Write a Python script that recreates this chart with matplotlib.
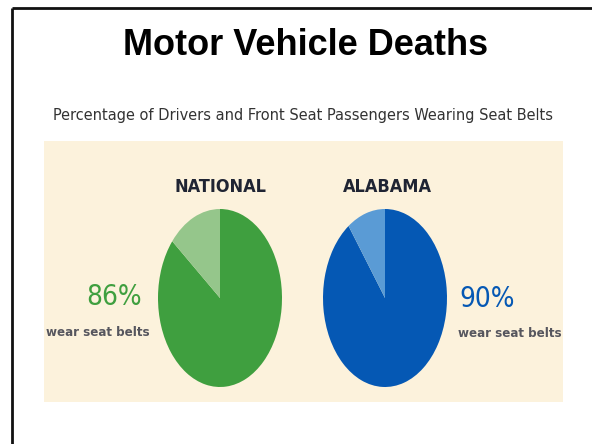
import matplotlib
matplotlib.use("Agg")
import matplotlib.pyplot as plt
from matplotlib.patches import Rectangle

# data
regions = ["NATIONAL", "ALABAMA"]
belt_pct = [86, 90]
pct_labels = ["86%", "90%"]
sub_label = "wear seat belts"
dark_cols = ["#3f9f3f", "#0558b4"]
light_cols = ["#95c68b", "#5a9bd5"]

W, H = 592, 444
fig = plt.figure(figsize=(W / 100, H / 100), dpi=100)
fig.patch.set_facecolor("white")

# background axes in pixel coords
bg = fig.add_axes([0, 0, 1, 1])
bg.set_xlim(0, W)
bg.set_ylim(H, 0)
bg.axis("off")

# frame lines (top + left only)
bg.plot([11.5, W], [8.5, 8.5], color="#111111", lw=2.0, solid_capstyle="butt")
bg.plot([11.5, 11.5], [8.5, H], color="#111111", lw=2.0, solid_capstyle="butt")

# cream panel
bg.add_patch(Rectangle((44, 141), 519, 261, facecolor="#fcf2dc", edgecolor="none"))

cond = dict(family="DejaVu Sans", fontstretch="condensed")

bg.text(305.5, 55, "Motor Vehicle Deaths", ha="center", va="baseline",
        fontsize=26, fontweight="bold", family="Liberation Sans", color="black")
bg.text(303, 120, "Percentage of Drivers and Front Seat Passengers Wearing Seat Belts",
        ha="center", va="baseline", fontsize=11.7, color="#333333", **cond)

# pies
pie_boxes = [(158, 209, 124, 178), (323, 209, 124, 178)]
for i, (x0, y0, w, h) in enumerate(pie_boxes):
    ax = fig.add_axes([x0 / W, 1 - (y0 + h) / H, w / W, h / H])
    ax.pie([belt_pct[i], 100 - belt_pct[i]], colors=[dark_cols[i], light_cols[i]],
           startangle=90, counterclock=False, radius=1,
           wedgeprops=dict(linewidth=0))
    ax.set_aspect("auto")
    ax.set_xlim(-1, 1)
    ax.set_ylim(-1, 1)
    ax.axis("off")

# region names
bg.text(220, 191.5, regions[0], ha="center", va="baseline", fontsize=13,
        fontweight="bold", color="#1f2433", **cond)
bg.text(387.5, 191.5, regions[1], ha="center", va="baseline", fontsize=13,
        fontweight="bold", color="#1f2433", **cond)

# percent labels
bg.text(142, 305, pct_labels[0], ha="right", va="baseline", fontsize=20,
        color=dark_cols[0], **cond)
bg.text(150, 336, sub_label, ha="right", va="baseline", fontsize=9.5,
        fontweight="bold", color="#56565e", **cond)
bg.text(459, 306.5, pct_labels[1], ha="left", va="baseline", fontsize=20,
        color=dark_cols[1], **cond)
bg.text(458, 337, sub_label, ha="left", va="baseline", fontsize=9.5,
        fontweight="bold", color="#56565e", **cond)

fig.savefig("out.png", dpi=100, facecolor="white")
